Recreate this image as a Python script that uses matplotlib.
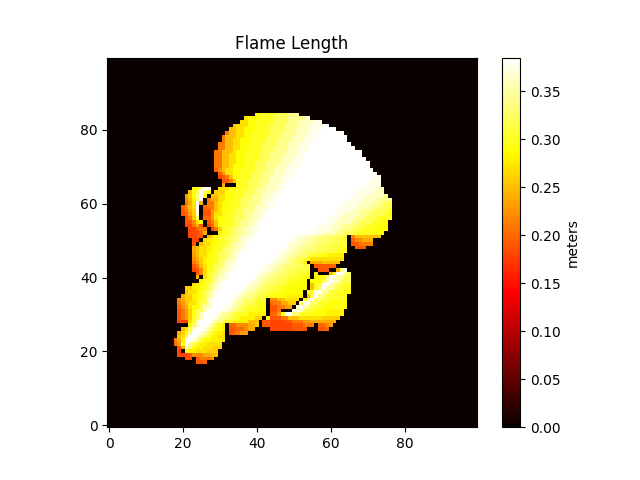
import numpy as np
import matplotlib
matplotlib.use("Agg")
import matplotlib.pyplot as plt

GRID_SIZE = 100
TITLE = "Flame Length"
CBAR_LABEL = "meters"
# Burned map: each row lists "column:value" change points,
# value in hundredths of a metre (0 = unburned), holding until the next point.
ROWS = {
84: "40:29 41:30 46:32 49:34 52:0",
83: "37:27 38:29 41:30 45:32 49:34 53:36 55:0",
82: "36:27 38:29 40:30 45:32 49:34 52:36 56:37.5 58:0",
81: "34:25 35:27 38:29 40:30 44:32 48:34 52:36 55:37.5 58:38.5 60:0",
80: "33:25 35:27 37:29 40:30 44:32 48:34 51:36 55:37.5 58:38.5 62:0",
79: "32:21 33:25 35:27 37:29 39:30 44:32 47:34 51:36 54:37.5 57:38.5 64:0",
78: "31:21 32:25 35:27 37:29 39:30 43:32 47:34 50:36 54:37.5 57:38.5 65:0",
77: "31:21 32:25 34:27 36:29 39:30 43:32 46:34 50:36 53:37.5 56:38.5 65:0",
76: "30:21 32:25 34:27 36:29 38:30 42:32 46:34 49:36 52:37.5 55:38.5 66:0",
75: "30:21 32:25 34:27 36:29 38:30 42:32 45:34 49:36 52:37.5 55:38.5 67:0",
74: "29:21 31:25 34:27 35:29 38:30 42:32 45:34 48:36 51:37.5 54:38.5 69:0",
73: "29:21 31:25 33:27 35:29 37:30 41:32 44:34 48:36 51:37.5 53:38.5 69:0",
72: "29:21 31:25 33:27 35:29 37:30 41:32 44:34 47:36 50:37.5 53:38.5 70:0",
71: "29:21 31:25 33:27 35:29 37:30 40:32 43:34 47:36 50:37.5 52:38.5 71:0",
70: "29:21 31:25 33:27 34:29 37:30 40:32 43:34 46:36 49:37.5 52:38.5 71:0",
69: "29:20 30:22 31:25 32:27 34:29 36:30 40:32 43:34 45:36 48:37.5 51:38.5 72:0",
68: "30:19 31:22 32:27 34:29 36:30 39:32 42:34 45:36 48:37.5 50:38.5 73:0",
67: "30:18 31:19 32:21 33:25 34:29 36:30 39:32 42:34 44:36 47:37.5 50:38.5 72:37.5 74:0",
66: "31:19 33:22 34:26 35:30 38:32 41:34 44:36 47:37.5 49:38.5 71:37.5 74:0",
65: "31:24 32:0 35:30 38:32 41:34 43:36 46:37.5 48:38.5 70:37.5 74:0",
64: "23:29 25:34 26:38.5 28:0 30:27 33:29 35:30 38:32 40:34 43:36 46:37.5 48:38.5 68:37.5 73:36 75:0",
63: "22:25 23:29 24:32 25:38.5 26:32 27:29 28:0 29:26 32:29 34:30 37:32 40:34 42:36 45:37.5 47:38.5 67:37.5 72:36 75:0",
62: "21:23 22:26 23:29 24:33 25:38.5 26:29 27:0 28:25 30:27 32:29 34:30 37:32 39:34 42:36 44:37.5 46:38.5 66:37.5 70:36 75:34 76:0",
61: "21:22 22:25 23:28 24:33 25:38.5 26:0 27:21 28:24 30:27 32:29 34:30 36:32 39:34 41:36 44:37.5 46:38.5 65:37.5 69:36 73:34 77:0",
60: "21:21 22:24 23:27 24:38.5 25:24 26:0 27:21 29:25 30:27 31:29 33:30 36:32 38:34 41:36 43:37.5 45:38.5 64:37.5 68:36 72:34 75:32 77:0",
59: "20:20 21:22 22:25 23:27 24:38.5 25:0 26:20 27:21 29:25 30:27 31:29 33:30 36:32 38:34 40:36 43:37.5 45:38.5 63:37.5 67:36 71:34 74:32 77:0",
58: "20:19 21:21 22:24 23:26 24:38.5 25:0 26:19 28:23 29:25 30:27 31:29 33:30 35:32 37:34 40:36 42:37.5 44:38.5 62:37.5 66:36 69:34 72:32 76:30 77:0",
57: "20:19 21:20 22:23 23:26 24:36 25:0 26:19 28:23 29:27 31:29 32:30 35:32 37:34 39:36 41:37.5 43:38.5 61:37.5 64:36 68:34 71:32 75:30 77:0",
56: "21:19 22:21 23:25 24:32 25:0 26:20 28:23 29:27 30:29 32:30 34:32 37:34 39:36 41:37.5 43:38.5 60:37.5 63:36 67:34 70:32 73:30 77:0",
55: "21:19 23:22 24:27 25:29 26:0 27:19 28:21 29:25 30:29 32:30 34:32 36:34 38:36 40:37.5 42:38.5 59:37.5 62:36 66:34 68:32 72:30 74:29 76:0",
54: "21:18 23:21 24:24 25:19 26:0 27:18 28:20 29:25 30:29 31:30 34:32 36:34 38:36 40:37.5 41:38.5 57:37.5 61:36 64:34 67:32 70:30 73:29 76:0",
53: "22:18 24:20 25:21 27:0 28:18 29:21 30:26 31:30 33:32 35:34 37:36 39:37.5 41:38.5 56:37.5 60:36 63:34 66:32 69:30 72:29 76:0",
52: "22:18 25:20 26:24 27:0 30:28 31:30 33:32 35:34 37:36 39:37.5 40:38.5 55:37.5 58:36 62:34 64:32 67:30 71:29 75:0",
51: "22:18 24:19 26:0 27:25 28:27 29:29 30:30 32:32 34:34 36:36 38:37.5 40:38.5 51:37 53:36 56:34.5 58:33 61:32 64:31 65:0 66:22 67:25 74:0",
50: "23:18 25:0 26:27 27:28 29:29 30:30 32:32 34:34 36:36 37:37.5 39:38.5 50:37 52:36 55:34.5 57:33 60:32 63:31 65:0 66:20 67:22 69:24 72:0",
49: "23:19 24:0 25:25 26:27 28:29 30:30 32:32 33:34 35:36 37:37.5 38:38.5 49:37 51:36 53:34.5 56:33 58:32 61:31 65:0 66:19 68:21 72:0",
48: "23:24 24:25 25:27 27:28 28:29 29:30 31:32 33:34 35:36 36:37.5 38:38.5 48:37 50:36 52:34.5 55:33 57:32 60:31 63:30 65:0 67:19 70:0",
47: "23:24 24:25 25:27 27:28 28:29 29:30 31:32 32:34 34:36 36:37.5 37:38.5 47:37 49:36 51:34.5 53:33 56:32 59:31 62:30 65:0",
46: "23:23 24:25 25:27 27:29 29:30 30:32 32:34 34:36 35:37.5 36:38.5 46:37 48:36 50:34.5 52:33 54:31 56:30 58:29 60:28 64:0",
45: "23:22 24:24 25:26 26:28 27:29 28:30 30:32 32:34 33:36 35:37.5 36:38.5 45:37 47:36 49:34 51:32 52:31 54:29 55:27 64:0",
44: "23:21 24:23 25:26 26:28 27:29 28:30 30:32 31:34 32:36 34:37.5 35:38.5 44:37 46:36 48:34 50:32 52:31 53:28 54:0 55:24 58:25 63:0",
43: "23:19 24:21 25:25 26:27 27:29 28:30 29:32 31:34 32:36 33:37.5 35:38.5 43:37 45:36 46:34.5 48:33 51:32 53:31 55:0 56:19 60:20 62:0",
42: "23:18 24:19 25:22 26:27 27:30 29:32 30:34 31:36 33:37.5 34:38.5 42:37 44:36 45:34.5 47:33 49:32 51:31 54:30 55:0 57:19 60:0 62:24 63:33 64:38.5 65:0",
41: "24:19 25:22 26:27 27:30 28:32 30:34 31:36 32:37.5 33:38.5 41:37 42:36 44:34.5 46:33 48:32 50:31 52:30 54:29 55:0 56:28 57:0 60:25 61:30 62:38.5 64:34 65:32 66:0",
40: "24:24 25:0 26:27 27:30 28:32 29:34 30:36 32:37.5 33:38.5 40:37 41:36 43:34.5 45:33 47:32 49:31 51:30 53:29 55:0 56:28 57:29 59:33 60:38.5 62:35 64:32 66:0",
39: "25:28 26:30 28:32 29:34 30:36 31:37.5 32:38.5 39:37 40:36 42:34.5 43:33 45:32 47:31 49:30 52:29 54:0 55:29 58:31 59:36 60:38.5 61:36 63:32 66:0",
38: "23:27 24:28 25:29 26:30 27:32 28:34 29:36 30:37.5 31:38.5 38:37 39:36 41:34.5 42:33 44:32 46:31 48:30 50:29 54:0 55:25 56:29 57:31 58:38.5 60:35 62:32 64:30 66:0",
37: "21:26 23:28 25:29 26:30 27:32 28:34 29:36 30:37.5 31:38.5 37:37 38:36 40:34.5 41:33 43:32 44:31 46:30 48:29 54:0 55:25 56:29 57:33 58:38.5 59:35 61:32 63:30 66:0",
36: "21:25 22:27 24:28 25:30 26:32 27:34 28:36 29:37.5 30:38.5 36:37 37:36 38:34.5 40:33 41:32 43:31 45:30 47:29 53:0 54:29 55:30 56:36 57:38.5 58:34 60:31 62:30 64:29 66:0",
35: "20:24 21:26 23:28 24:29 25:30 26:32 27:34 28:36 29:38.5 35:37 36:36 37:34.5 39:33 40:32 41:31 43:30 45:29 48:28 53:0 54:25 55:31 56:38.5 57:34 59:31 61:30 65:0",
34: "19:22 20:24 21:26 23:28 24:29 25:30 26:32 27:36 28:37.5 29:38.5 34:37 35:36 36:34.5 37:33 39:32 40:31 42:30 43:0 44:22 46:25 48:27 52:0 53:29 54:35 55:38.5 56:33 58:31 60:30 65:0",
33: "19:21 20:23 21:25 22:27 24:29 25:32 27:36 28:38.5 33:37 35:34.5 37:32 40:30 43:0 44:20 45:21 47:24 49:26 51:0 52:33 53:38.5 55:33 57:30 60:29 65:0",
32: "19:20 20:22 21:24 22:27 23:29 25:32 26:36 28:38.5 32:37 34:34.5 36:32 38:30 41:29 43:0 44:19 46:21 48:23 50:0 51:36 52:38.5 53:35 55:31 58:29 65:0",
31: "19:19 20:21 21:23 22:26 23:29 24:32 26:36 27:38.5 31:37 33:34.5 35:32 37:30 40:29 43:0 44:19 46:21 47:0 50:38.5 51:36 53:31 56:29 59:28 64:0",
30: "19:19 20:21 21:23 22:26 23:29 24:32 25:36 26:38.5 30:37 31:34.5 33:32 35:30 38:28 43:0 44:20 46:23 47:30 48:38.5 50:33 52:30 55:29 59:28 64:0",
29: "19:19 20:21 21:23 22:26 23:30 24:32 25:36 26:38.5 29:37 30:34.5 32:32 34:30 36:28 40:26 42:0 43:29 44:19 47:21 49:25 52:27 58:26 63:0",
28: "19:18 22:27 23:30 24:36 25:38.5 28:37 29:34.5 31:32 32:30 34:28 38:25 41:0 42:19 44:18 48:19 50:21 53:23 55:24 62:0",
27: "22:29 23:32 24:36 25:38.5 27:37 28:34.5 29:32 30:30 31:28 32:0 33:20 35:22 38:24 40:26 41:0 42:19 44:18 50:19 53:21 56:0 57:20 59:22 60:23 61:0",
26: "20:25 21:27 22:32 23:36 24:38.5 26:37 27:34.5 28:32 29:30 31:28 32:0 33:19 35:20 37:22 38:24 40:0 44:18 50:19 54:0 57:19 59:20 60:0",
25: "19:24 20:26 21:29 22:34 23:38.5 25:37 26:34.5 27:32 28:30 29:28 31:27 32:0 33:19 34:20 35:21 36:23 38:0",
24: "19:25 20:27 21:31 22:38.5 24:37 25:34.5 26:32 27:30 28:28 30:27 32:0",
23: "18:21 19:24 20:28 21:38.5 23:37 24:34.5 25:31 26:29 28:28 31:27 32:0",
22: "18:20 19:23 20:29 21:38.5 22:35 23:32 24:30 25:28 27:27 31:0",
21: "19:19 20:24 21:38 22:33 23:29 24:28 26:27 29:26 31:0",
20: "19:18 20:0 21:29 22:28 24:27 27:26 30:0",
19: "19:18 22:19 23:22 26:24 28:25 30:0",
18: "21:18 23:0 24:19 25:21 28:22 29:0",
17: "24:19 26:20 27:0",
}

grid = np.zeros((GRID_SIZE, GRID_SIZE))
for row, spec in ROWS.items():
    points = [p.split(":") for p in spec.split()]
    for i, (col, val) in enumerate(points[:-1]):
        grid[row, int(col):int(points[i + 1][0])] = float(val) / 100

fig, ax = plt.subplots(figsize=(6.4, 4.8), dpi=100)
im = ax.imshow(grid, cmap="hot", origin="lower")
ax.set_title(TITLE)
cbar = fig.colorbar(im, ax=ax)
cbar.set_label(CBAR_LABEL)
fig.savefig("out.png", dpi=100)
